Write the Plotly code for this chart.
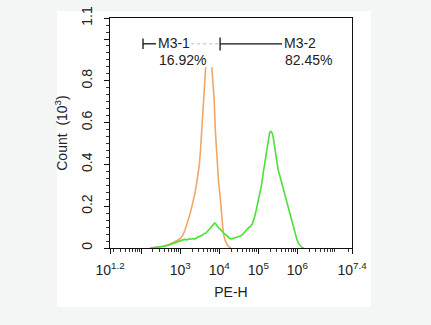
import plotly.graph_objects as go

# PE-H fluorescence histograms (x in log10 units, counts in thousands)
orange_log = [2.22, 2.40, 2.55, 2.70, 2.82, 2.92, 3.00, 3.06, 3.12, 3.18, 3.23, 3.28,
              3.33, 3.38, 3.42, 3.46, 3.49, 3.52, 3.55, 3.585, 3.615, 3.636, 3.67,
              3.70, 3.73, 3.76, 3.79, 3.815, 3.84, 3.867, 3.90, 3.944, 3.98, 4.021,
              4.045, 4.064, 4.10, 4.149, 4.19, 4.226, 4.27, 4.30]
orange_count = [0.0, 0.003, 0.008, 0.016, 0.026, 0.036, 0.046, 0.060, 0.085, 0.115,
                0.150, 0.185, 0.222, 0.265, 0.310, 0.360, 0.400, 0.470, 0.560, 0.715,
                0.800, 0.850, 0.920, 0.950, 0.955, 0.945, 0.910, 0.850, 0.780, 0.715,
                0.560, 0.400, 0.320, 0.250, 0.180, 0.127, 0.075, 0.036, 0.018, 0.009,
                0.003, 0.0]

green_log = [2.25, 2.45, 2.60, 2.72, 2.82, 2.90, 2.96, 3.02, 3.08, 3.13, 3.18, 3.23,
             3.28, 3.33, 3.38, 3.43, 3.48, 3.53, 3.57, 3.62, 3.66, 3.70, 3.74, 3.78,
             3.82, 3.85, 3.88, 3.91, 3.94, 3.98, 4.02, 4.06, 4.10, 4.14, 4.18, 4.22,
             4.27, 4.32, 4.37, 4.42, 4.48, 4.53, 4.58, 4.63, 4.68, 4.72, 4.77, 4.81,
             4.85, 4.88, 4.91, 4.94, 4.97, 5.00, 5.04, 5.08, 5.12, 5.16, 5.20, 5.23,
             5.26, 5.29, 5.32, 5.35, 5.38, 5.41, 5.44, 5.47, 5.51, 5.55, 5.59, 5.63,
             5.67, 5.71, 5.75, 5.79, 5.83, 5.87, 5.91, 5.95, 5.99, 6.03, 6.07, 6.11,
             6.16]
green_count = [0.0, 0.004, 0.008, 0.014, 0.022, 0.028, 0.034, 0.036, 0.040, 0.041,
               0.039, 0.044, 0.042, 0.045, 0.043, 0.050, 0.054, 0.058, 0.062, 0.070,
               0.072, 0.080, 0.088, 0.096, 0.104, 0.113, 0.119, 0.116, 0.104, 0.096,
               0.090, 0.080, 0.074, 0.068, 0.060, 0.052, 0.046, 0.044, 0.046, 0.050,
               0.054, 0.056, 0.062, 0.070, 0.082, 0.092, 0.100, 0.106, 0.118, 0.132,
               0.152, 0.176, 0.200, 0.228, 0.258, 0.300, 0.352, 0.400, 0.452, 0.496,
               0.530, 0.552, 0.558, 0.552, 0.532, 0.490, 0.446, 0.404, 0.372, 0.346,
               0.318, 0.290, 0.262, 0.230, 0.200, 0.170, 0.142, 0.116, 0.088, 0.062,
               0.040, 0.022, 0.010, 0.004, 0.0]

# Gate markers (log10 bounds) and their percentages
gate1 = {"name": "M3-1", "pct": "16.92%", "lo": 2.046, "hi": 4.02}
gate2 = {"name": "M3-2", "pct": "82.45%", "lo": 4.02, "hi": 5.61}

x_range = [1.2, 7.4]
y_range = [0, 1.1005]
x_major = [1.2, 2, 3, 4, 5, 6, 7.4]
x_labels = ["10<sup>1.2</sup>", "", "10<sup>3</sup>", "10<sup>4</sup>",
            "10<sup>5</sup>", "10<sup>6</sup>", "10<sup>7.4</sup>"]
y_major = [0, 0.2, 0.4, 0.6, 0.8, 1.0, 1.1]
y_labels = ["0", "0.2", "0.4", "0.6", "0.8", "", "1.1"]

FONT = "Liberation Sans, Arial, sans-serif"
ORANGE = "#f2a766"
GREEN = "#4ee03a"


def lin(v):
    """log10 position -> linear data value (shapes on log axes take raw values)"""
    return 10 ** v


x_minor = []
for d in range(1, 8):
    for k in range(2, 10):
        v = k * 10 ** d
        if 10 ** x_range[0] < v < 10 ** x_range[1]:
            x_minor.append(v)

fig = go.Figure()
fig.add_trace(go.Scatter(x=[lin(v) for v in orange_log], y=orange_count, mode="lines",
                         line=dict(color=ORANGE, width=1.6), hoverinfo="skip"))
fig.add_trace(go.Scatter(x=[lin(v) for v in green_log], y=green_count, mode="lines",
                         line=dict(color=GREEN, width=1.6), hoverinfo="skip"))

mid_y = 0.977
shapes = [
    # white sheet behind the chart
    dict(type="rect", xref="paper", yref="paper", x0=-0.2189, x1=1.0785, y0=-0.2562,
         y1=1.03, fillcolor="white", line_width=0, layer="below"),
    # mask behind the first gate's label
    dict(type="rect", xref="x", yref="y", x0=lin(2.36), x1=lin(3.95), y0=0.865, y1=1.02,
         fillcolor="white", line_width=0, layer="above"),
    # gate 1 bracket
    dict(type="line", xref="x", yref="y", x0=lin(gate1["lo"]), x1=lin(gate1["lo"]),
         y0=0.952, y1=1.002, line=dict(color="#111", width=1.3)),
    dict(type="line", xref="x", yref="y", x0=lin(gate1["lo"]), x1=lin(2.38),
         y0=mid_y, y1=mid_y, line=dict(color="#111", width=1.3)),
    dict(type="line", xref="x", yref="y", x0=lin(3.28), x1=lin(gate1["hi"] - 0.03),
         y0=mid_y, y1=mid_y, line=dict(color="#bbbbbb", width=1, dash="dot")),
    # gate 2 bracket
    dict(type="line", xref="x", yref="y", x0=lin(gate2["lo"]), x1=lin(gate2["lo"]),
         y0=0.945, y1=1.007, line=dict(color="#111", width=1.3)),
    dict(type="line", xref="x", yref="y", x0=lin(gate2["lo"]), x1=lin(gate2["hi"]),
         y0=mid_y, y1=mid_y, line=dict(color="#111", width=1.3)),
]

fig.update_layout(
    width=431, height=325,
    margin=dict(l=110, r=79, t=6, b=77),
    paper_bgcolor="#f4f5f5",
    plot_bgcolor="white",
    showlegend=False,
    font=dict(family=FONT, size=14, color="#222222"),
    shapes=shapes,
    xaxis=dict(
        type="log", range=x_range,
        tickmode="array", tickvals=[lin(v) for v in x_major], ticktext=x_labels,
        ticks="outside", ticklen=5, tickwidth=1.3, tickcolor="#111",
        showline=True, linecolor="#111", linewidth=1.4, mirror=True,
        showgrid=False, zeroline=False,
        minor=dict(tickvals=x_minor, ticks="outside", ticklen=3, tickwidth=1,
                   tickcolor="#333", showgrid=False),
        tickfont=dict(size=14),
        ticklabelstandoff=4,
        ticklabeloverflow="allow",
        title=dict(text="PE-H", font=dict(size=14), standoff=10),
    ),
    yaxis=dict(
        range=y_range,
        tickmode="array", tickvals=y_major, ticktext=y_labels,
        ticks="outside", ticklen=5, tickwidth=1.3, tickcolor="#111",
        showline=True, linecolor="#111", linewidth=1.4, mirror=True,
        showgrid=False, zeroline=False,
        minor=dict(tick0=0, dtick=0.2 / 6, ticks="outside", ticklen=3, tickwidth=1,
                   tickcolor="#333", showgrid=False),
        tickangle=-90,
        tickfont=dict(size=14),
        ticklabelstandoff=6,
        ticklabeloverflow="allow",
        title=dict(text="Count  (10<sup>3</sup>)", font=dict(size=14), standoff=8),
    ),
)

for g, x_text in ((gate1, 2.40), (gate2, 5.64)):
    fig.add_annotation(x=x_text, y=mid_y + 0.004, text=g["name"], showarrow=False,
                       xanchor="left", yanchor="middle", borderpad=0,
                       font=dict(size=14, color="#222"))
    fig.add_annotation(x=x_text + 0.02, y=0.900, text=g["pct"], showarrow=False,
                       xanchor="left", yanchor="middle", borderpad=0,
                       font=dict(size=14, color="#222"))

fig.write_html("out.html")
